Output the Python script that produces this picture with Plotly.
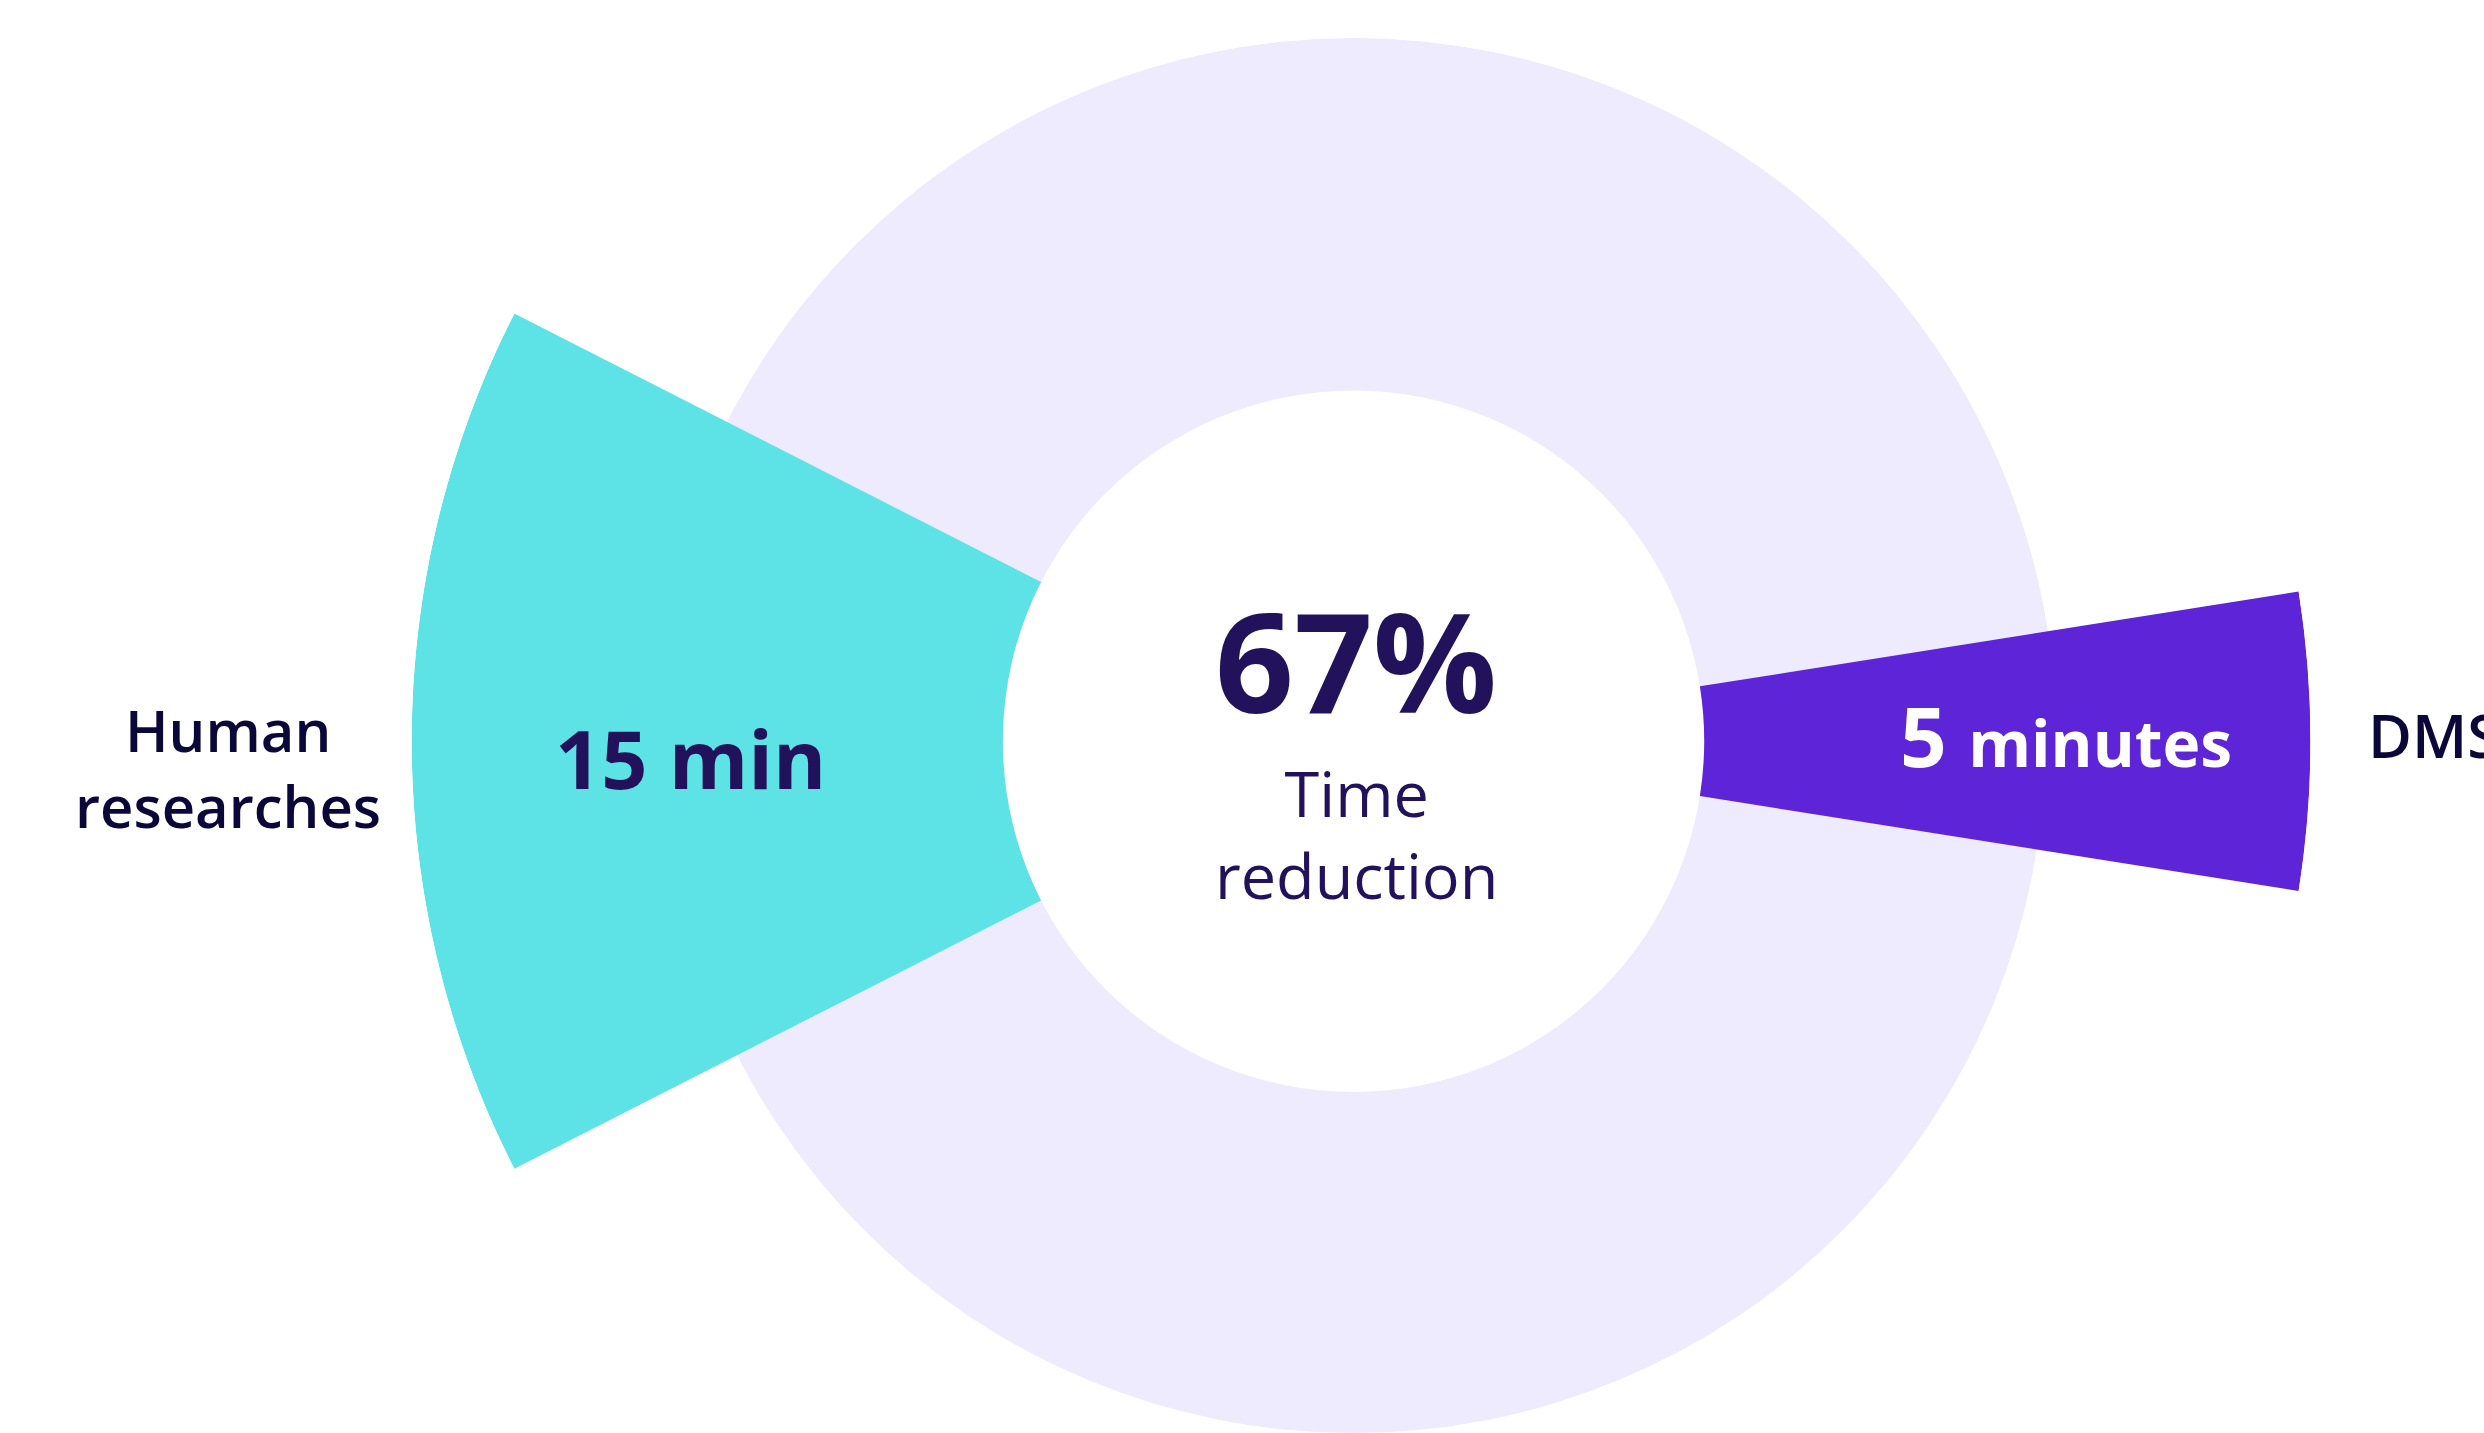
import math
import plotly.graph_objects as go

# ---------------- data ----------------
categories = ["Human researches", "DMS"]
minutes = [15, 5]
value_labels = ["15 min", "5 minutes"]
bar_angles = [180, 0]              # angular centre of each bar (deg)
bar_outer_radius = [94.0, 95.5]    # outer radius of each bar (radial units)
hole_radius = 35.0                 # inner radius of ring / bars
ring_outer_radius = 70.2           # background ring outer radius
deg_per_minute = 3.6               # 100 minutes = full circle
center_title = "Time<br>reduction"

reduction_pct = round((minutes[0] - minutes[1]) / minutes[0] * 100)

# ---------------- layout constants ----------------
W, H = 2484, 1433
CX, CY = 1353.5, 741.2     # centre in px (from top-left)
K = 10.02                  # px per radial unit

CYAN = "#5DE3E5"
PURPLE = "#5D25D7"
LAVENDER = "#EEEBFE"
INK = "#22125B"
NAVY = "#0A0838"
FONT = "Open Sans, Noto Sans, sans-serif"


def sector_bbox(s0, s1):
    arc = s1 - s0
    a0 = s0 % 360
    a1 = a0 + arc
    ax0, ay0 = math.cos(math.radians(a0)), math.sin(math.radians(a0))
    ax1, ay1 = math.cos(math.radians(a1)), math.sin(math.radians(a1))
    if (a0 <= 90 and a1 >= 90) or (a0 > 90 and a1 >= 450):
        y1 = 1
    elif ay0 <= 0 and ay1 <= 0:
        y1 = 0
    else:
        y1 = max(ay0, ay1)
    if (a0 <= 180 and a1 >= 180) or (a0 > 180 and a1 >= 540):
        x0 = -1
    elif ax0 >= 0 and ax1 >= 0:
        x0 = 0
    else:
        x0 = min(ax0, ax1)
    if (a0 <= 270 and a1 >= 270) or (a0 > 270 and a1 >= 630):
        y0 = -1
    elif ay0 >= 0 and ay1 >= 0:
        y0 = 0
    else:
        y0 = min(ay0, ay1)
    if a1 >= 360:
        x1 = 1
    elif ax0 <= 0 and ax1 <= 0:
        x1 = 0
    else:
        x1 = max(ax0, ax1)
    return x0, y0, x1, y1


def polar_layout(sector, r_units):
    x0, y0, x1, y1 = sector_bbox(*sector)
    R = r_units * K
    # keep domain inside the figure
    lims = [R]
    if x0 < 0:
        lims.append(CX / -x0)
    if x1 > 0:
        lims.append((W - CX) / x1)
    if y1 > 1e-9:
        lims.append(CY / y1)
    if y0 < 0:
        lims.append((H - CY) / -y0)
    R = min(lims) - 0.01
    left, right = CX + R * x0, CX + R * x1
    top, bottom = CY - R * y1, CY - R * y0
    dom = dict(x=[max(0, left / W), min(1, right / W)],
               y=[max(0, 1 - bottom / H), min(1, 1 - top / H)])
    return dict(
        domain=dom,
        sector=list(sector),
        hole=0,
        bgcolor="rgba(0,0,0,0)",
        radialaxis=dict(visible=False, range=[0, R / K], showgrid=False,
                        showline=False, showticklabels=False, ticks=""),
        angularaxis=dict(visible=False, showgrid=False, showline=False,
                         showticklabels=False, ticks="",
                         direction="counterclockwise", rotation=0),
    )


fig = go.Figure()

# background ring: top half and bottom half
ring_parts = [((0, 180), 90), ((180, 360), 270)]
polars = {}
idx = 1
for sector, th in ring_parts:
    name = "polar" if idx == 1 else f"polar{idx}"
    polars[name] = polar_layout(sector, ring_outer_radius)
    fig.add_trace(go.Barpolar(
        r=[ring_outer_radius - hole_radius], base=[hole_radius], theta=[th],
        width=[180], marker=dict(color=LAVENDER, line=dict(width=0)),
        subplot=name, hoverinfo="skip", showlegend=False))
    idx += 1

colors = [CYAN, PURPLE]
for cat, m, ang, outer, col in zip(categories, minutes, bar_angles,
                                   bar_outer_radius, colors):
    w = m * deg_per_minute
    name = f"polar{idx}"
    polars[name] = polar_layout((ang - w / 2 - 3, ang + w / 2 + 3), outer)
    fig.add_trace(go.Barpolar(
        r=[outer - hole_radius], base=[hole_radius], theta=[ang], width=[w],
        marker=dict(color=col, line=dict(width=0)), name=cat,
        subplot=name, showlegend=False))
    idx += 1


def px_x(x):
    return x / W


def px_y(y):
    return 1 - y / H


annotations = [
    dict(text=f"<b>{reduction_pct}%</b>", x=px_x(1355.8), y=px_y(659),
         font=dict(size=138, color=INK, family=FONT)),
    dict(text=center_title, x=px_x(1356), y=px_y(833),
         font=dict(size=63, color=INK, family=FONT)),
    dict(text=f"<b>{value_labels[0]}</b>", x=px_x(690), y=px_y(758),
         font=dict(size=81, color=INK, family=FONT)),
    dict(text="<b>" + value_labels[1].split(" ")[0]
              + " <span style='font-size:64px'>"
              + value_labels[1].split(" ", 1)[1] + "</span></b>",
         x=px_x(2066), y=px_y(735),
         font=dict(size=82, color="#FFFFFF", family=FONT)),
    dict(text="Human", x=px_x(227.5), y=px_y(729),
         font=dict(size=58, color=NAVY, family=FONT, weight=600)),
    dict(text="researches", x=px_x(227.5), y=px_y(805),
         font=dict(size=58, color=NAVY, family=FONT, weight=600)),
    dict(text=categories[1], x=px_x(2366), y=px_y(735), xanchor="left",
         font=dict(size=60, color=NAVY, family=FONT, weight=600)),
]
for a in annotations:
    a.setdefault("xanchor", "center")
    a.update(xref="paper", yref="paper", yanchor="middle", showarrow=False)

fig.update_layout(
    width=W, height=H,
    margin=dict(l=0, r=0, t=0, b=0),
    paper_bgcolor="white", plot_bgcolor="white",
    showlegend=False,
    annotations=annotations,
    **polars,
)

fig.write_html("out.html")
